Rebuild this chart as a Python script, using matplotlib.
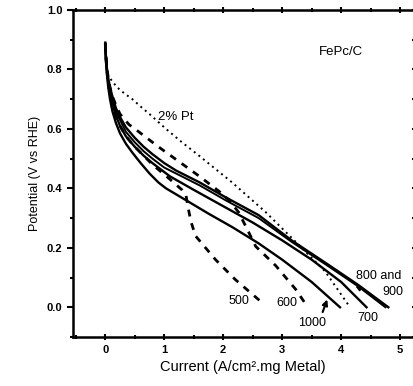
import matplotlib
matplotlib.use("Agg")
import matplotlib.pyplot as plt
from matplotlib.ticker import MultipleLocator

plt.rcParams['font.family'] = ['Liberation Sans', 'DejaVu Sans']

# Data
x_1000 = [0, 0.005, 0.015, 0.03, 0.05, 0.08, 0.12, 0.18, 0.25, 0.35, 0.46, 0.6, 0.75, 0.9, 1.03, 1.2, 1.37, 1.75, 2.15, 2.6, 3.0, 3.5, 3.98]
y_1000 = [0.885, 0.86, 0.82, 0.78, 0.74, 0.70, 0.66, 0.62, 0.585, 0.55, 0.52, 0.485, 0.45, 0.42, 0.40, 0.38, 0.36, 0.315, 0.27, 0.215, 0.16, 0.085, 0.0]

x_700 = [0, 0.005, 0.015, 0.03, 0.05, 0.08, 0.12, 0.18, 0.25, 0.35, 0.5, 0.65, 0.8, 1.1, 1.5, 2.0, 2.5, 3.0, 3.5, 4.0, 4.43]
y_700 = [0.885, 0.86, 0.825, 0.79, 0.755, 0.72, 0.685, 0.645, 0.61, 0.575, 0.54, 0.51, 0.485, 0.44, 0.395, 0.34, 0.285, 0.225, 0.16, 0.085, 0.0]

x_800 = [0, 0.005, 0.015, 0.03, 0.05, 0.08, 0.12, 0.18, 0.25, 0.35, 0.5, 0.65, 0.8, 1.0, 1.2, 1.6, 2.04, 2.6, 3.16, 3.73, 4.29, 4.8]
y_800 = [0.89, 0.865, 0.83, 0.80, 0.77, 0.74, 0.71, 0.67, 0.64, 0.605, 0.57, 0.54, 0.515, 0.485, 0.46, 0.42, 0.37, 0.31, 0.225, 0.15, 0.075, 0.0]

x_900 = [0, 0.005, 0.015, 0.03, 0.05, 0.08, 0.12, 0.18, 0.25, 0.35, 0.5, 0.65, 0.8, 1.0, 1.2, 1.6, 2.04, 2.6, 3.16, 3.73, 4.29, 4.75]
y_900 = [0.89, 0.86, 0.825, 0.79, 0.76, 0.73, 0.70, 0.66, 0.63, 0.59, 0.555, 0.525, 0.50, 0.47, 0.45, 0.41, 0.36, 0.30, 0.22, 0.145, 0.07, 0.0]

x_pt = [0.04, 0.1, 0.2, 0.32, 0.46, 0.6, 0.75, 1.03, 1.3, 1.59, 2.15, 2.72, 3.28, 3.73, 4.15]
y_pt = [0.785, 0.765, 0.74, 0.72, 0.70, 0.675, 0.65, 0.60, 0.555, 0.51, 0.42, 0.32, 0.21, 0.12, 0.0]

x_600 = [0, 0.005, 0.015, 0.03, 0.05, 0.08, 0.12, 0.18, 0.25, 0.4, 0.57, 0.9, 1.25, 1.6, 1.93, 2.1, 2.26, 2.4, 2.55, 2.89, 3.23, 3.4]
y_600 = [0.89, 0.865, 0.835, 0.80, 0.77, 0.74, 0.71, 0.68, 0.65, 0.615, 0.59, 0.54, 0.49, 0.44, 0.39, 0.36, 0.32, 0.265, 0.205, 0.14, 0.06, 0.01]

x_500 = [0, 0.005, 0.015, 0.03, 0.05, 0.08, 0.12, 0.18, 0.25, 0.35, 0.5, 0.65, 0.8, 1.1, 1.3, 1.37, 1.40, 1.45, 1.53, 1.7, 1.87, 2.2, 2.65]
y_500 = [0.885, 0.86, 0.825, 0.79, 0.755, 0.72, 0.685, 0.645, 0.61, 0.575, 0.54, 0.51, 0.48, 0.43, 0.395, 0.375, 0.34, 0.29, 0.24, 0.20, 0.16, 0.094, 0.017]

fig = plt.figure(figsize=(4.14, 3.86), dpi=100)
ax = fig.add_axes([0.176, 0.127, 0.819, 0.847])

ax.plot(x_1000, y_1000, color='black', lw=1.7)
ax.plot(x_700, y_700, color='black', lw=1.7)
ax.plot(x_800, y_800, color='black', lw=1.7)
ax.plot(x_900, y_900, color='black', lw=1.4)
ax.plot(x_pt, y_pt, color='black', lw=1.4, ls=(0, (1, 2)))
ax.plot(x_600, y_600, color='black', lw=2.0, ls=(0, (2.5, 2.5)))
ax.plot(x_500, y_500, color='black', lw=2.0, ls=(0, (2.5, 2.5)))

ax.set_xlim(-0.55, 5.2)
ax.set_ylim(-0.1, 1.0)
ax.xaxis.set_major_locator(MultipleLocator(1))
ax.xaxis.set_minor_locator(MultipleLocator(0.5))
ax.yaxis.set_major_locator(MultipleLocator(0.2))
ax.yaxis.set_minor_locator(MultipleLocator(0.1))
ax.yaxis.set_major_formatter(matplotlib.ticker.FormatStrFormatter('%.1f'))

ax.tick_params(which='both', direction='out', labelsize=8, width=1.5)
ax.tick_params(which='major', length=4)
ax.tick_params(which='minor', length=2.5)
ax.tick_params(axis='x', which='both', top=True, direction='inout')
ax.tick_params(axis='y', which='both', right=True)
for lbl in ax.get_xticklabels() + ax.get_yticklabels():
    lbl.set_fontweight('bold')
for s in ['left', 'bottom', 'top']:
    ax.spines[s].set_linewidth(1.8)
ax.spines['right'].set_visible(False)

ax.set_xlabel('Current (A/cm\u00b2.mg Metal)', fontsize=10.5)
ax.set_ylabel('Potential (V vs RHE)', fontsize=9)

ax.text(4.0, 0.86, 'FePc/C', fontsize=9.5, ha='center', va='center')
ax.text(1.2, 0.64, '2% Pt', fontsize=9.5, ha='center', va='center')
ax.text(4.63, 0.105, '800 and', fontsize=9, ha='center', va='center')
ax.text(4.88, 0.05, '900', fontsize=9, ha='center', va='center')
ax.text(2.26, 0.022, '500', fontsize=9, ha='center', va='center')
ax.text(3.08, 0.015, '600', fontsize=9, ha='center', va='center')
ax.text(3.5, -0.052, '1000', fontsize=9, ha='center', va='center')
ax.text(4.46, -0.035, '700', fontsize=9, ha='center', va='center')

ax.annotate('', xy=(3.78, 0.035), xytext=(3.67, -0.025),
            arrowprops=dict(arrowstyle='-|>', color='black', lw=1.5, mutation_scale=8))
ax.annotate('', xy=(4.2, 0.075), xytext=(4.35, 0.06),
            arrowprops=dict(arrowstyle='-|>', color='black', lw=1.2, mutation_scale=7))

fig.savefig('out.png', dpi=100)
